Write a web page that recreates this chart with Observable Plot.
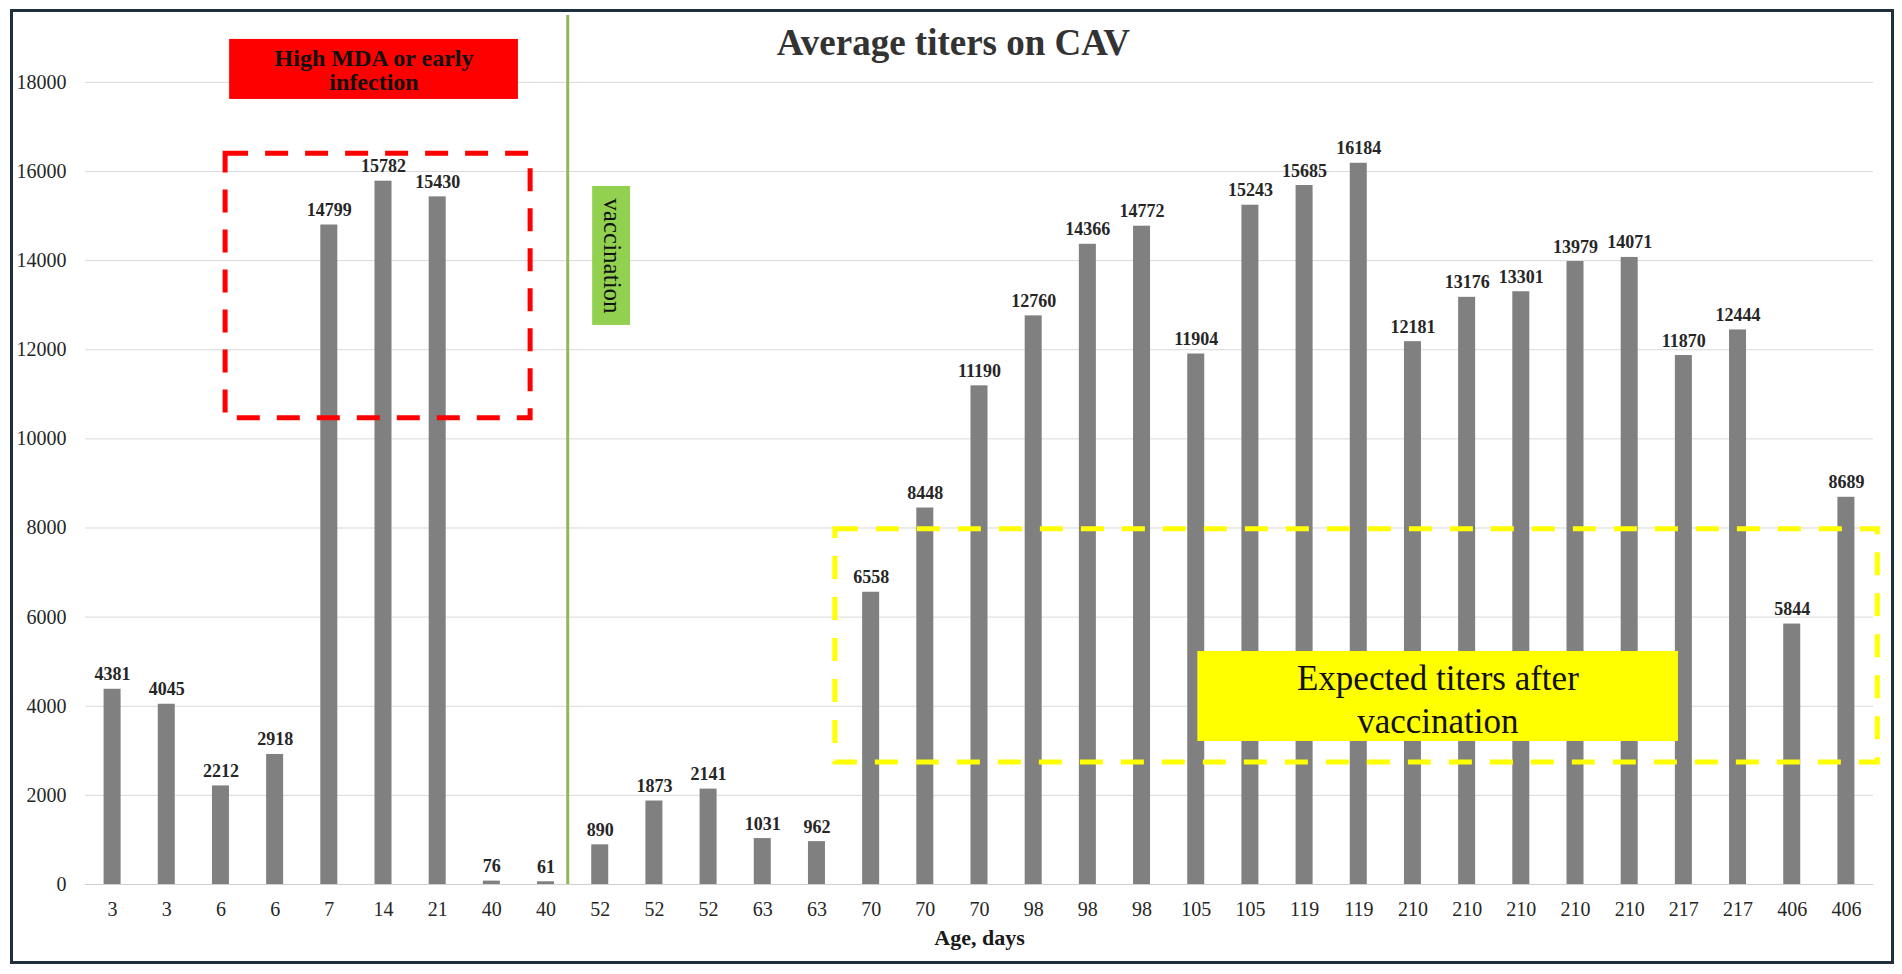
<!DOCTYPE html>
<html><head><meta charset="utf-8">
<script src="https://cdn.jsdelivr.net/npm/d3@7"></script>
<script src="https://cdn.jsdelivr.net/npm/@observablehq/plot@0.6"></script>
<style>
html,body{margin:0;padding:0;background:#fff;}
#wrap{position:relative;width:1902px;height:974px;overflow:hidden;}
#border{position:absolute;left:10px;top:9px;width:1878px;height:949px;border:3px solid #1e2f40;pointer-events:none;}
</style></head><body>
<div id="wrap"><div id="chart"></div><div id="border"></div></div>
<script>
const ageLabels = ["3","3","6","6","7","14","21","40","40","52","52","52","63","63","70","70","70","98","98","98","105","105","119","119","210","210","210","210","210","217","217","406","406"];
const titers = [4381,4045,2212,2918,14799,15782,15430,76,61,890,1873,2141,1031,962,6558,8448,11190,12760,14366,14772,11904,15243,15685,16184,12181,13176,13301,13979,14071,11870,12444,5844,8689];
const yTicks = [0,2000,4000,6000,8000,10000,12000,14000,16000,18000];
const titleText = "Average titers on CAV";
const xLabel = "Age, days";
const redNote = "High MDA or early\ninfection";
const greenNote = "vaccination";
const yellowNote = "Expected titers after\nvaccination";

const rows = titers.map((v, i) => ({i, age: ageLabels[i], v}));
const serif = "'Liberation Serif', 'Times New Roman', serif";
const half = 0.157;

const chart = Plot.plot({
  width: 1902, height: 974,
  marginLeft: 85, marginRight: 29, marginTop: 15, marginBottom: 90,
  x: {domain: [-0.5, 32.5], axis: null, label: null},
  y: {domain: [0, 19500], axis: null, label: null},
  style: {fontFamily: serif, fontSize: "20px", color: "#262626", background: "#fff"},
  marks: [
    Plot.gridY(yTicks, {stroke: "#d9d9d9", strokeOpacity: 1, strokeWidth: 1}),
    Plot.ruleY([0], {stroke: "#d0d0d0", strokeWidth: 1}),
    Plot.rect(rows, {x1: d => d.i - half, x2: d => d.i + half, y1: 0, y2: "v", fill: "#808080"}),
    Plot.text(rows, {x: "i", y: "v", text: d => String(d.v), lineAnchor: "bottom", dy: -9, fontWeight: "bold", fontSize: 18, fill: "#262626"}),
    // red note box
    Plot.rect([{}], {x1: 2.16, x2: 7.49, y1: 17616, y2: 18963, fill: "#FF0000"}),
    Plot.text([redNote], {x: 4.825, y: 18261, text: d => d, fontSize: 24, fontWeight: "bold", lineHeight: 1, fill: "#111"}),
    // red dashed region
    Plot.rect([{}], {x1: 2.086, x2: 7.715, y1: 10460, y2: 16400, fill: "none", stroke: "#FF0000", strokeWidth: 5, strokeDasharray: "23,17"}),
    // vaccination line
    Plot.ruleX([8.4], {y1: 0, y2: 19500, stroke: "#93B55B", strokeWidth: 3}),
    Plot.rect([{}], {x1: 8.86, x2: 9.56, y1: 12545, y2: 15664, fill: "#92D050"}),
    Plot.text([greenNote], {x: 9.21, y: 14104, text: d => d, rotate: 90, fontSize: 25, fill: "#111"}),
    // yellow dashed region
    Plot.rect([{}], {x1: 13.34, x2: 32.58, y1: 2740, y2: 7970, fill: "none", stroke: "#FFFF00", strokeWidth: 5, strokeDasharray: "23,18"}),
    Plot.rect([{}], {x1: 20.03, x2: 28.90, y1: 3209, y2: 5229, fill: "#FFFF00"}),
    Plot.text([yellowNote], {x: 24.46, y: 4199, text: d => d, fontSize: 35, lineHeight: 1.25, fill: "#111"}),
    // title
    Plot.text([titleText], {x: 12.26, y: 18604, text: d => d, textAnchor: "start", lineAnchor: "bottom", fontSize: 37, fontWeight: "bold", fill: "#333"}),
    // axes
    Plot.axisY({ticks: yTicks, tickSize: 0, tickPadding: 19, tickFormat: d => String(d), fontSize: 20, fill: "#262626", label: null}),
    Plot.axisX({ticks: d3.range(ageLabels.length), tickSize: 0, tickPadding: 17, tickFormat: i => ageLabels[i], fontSize: 20, fill: "#262626", label: null}),
    Plot.text([xLabel], {frameAnchor: "bottom", lineAnchor: "bottom", dy: 60, text: d => d, fontSize: 22, fontWeight: "bold", fill: "#1a1a1a"})
  ]
});
document.getElementById("chart").appendChild(chart);
</script>
</body></html>
